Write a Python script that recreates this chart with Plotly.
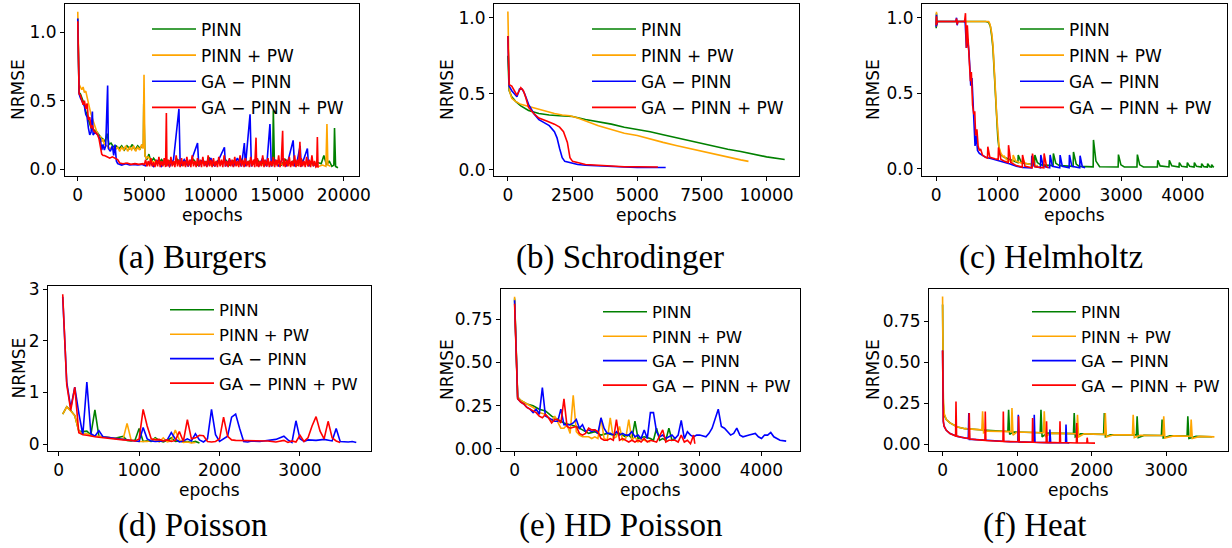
import plotly.graph_objects as go

W, H = 1232, 548

SERIES_NAMES = ["PINN", "PINN + PW", "GA \u2212 PINN", "GA \u2212 PINN + PW"]
SERIES_COLORS = ["#008000", "#FFA500", "#0000FF", "#FF0000"]

# ---------------- (a) Burgers : (epoch, NRMSE) ----------------
BURGERS_PINN = [
    (0, 1.10), (50, 0.75), (100, 0.56), (200, 0.55), (300, 0.52), (400, 0.50), (500, 0.47),
    (600, 0.42), (700, 0.40), (800, 0.36), (900, 0.33), (1000, 0.30), (1150, 0.29), (1300, 0.28),
    (1450, 0.27), (1600, 0.25), (1750, 0.23), (1900, 0.22), (2050, 0.20), (2200, 0.26), (2350, 0.18),
    (2500, 0.19), (2700, 0.16), (2900, 0.17), (3100, 0.15), (3300, 0.17), (3500, 0.14), (3700, 0.17),
    (3900, 0.15), (4100, 0.18), (4300, 0.14), (4500, 0.17), (4700, 0.15), (4850, 0.18), (4930, 0.16),
    (4960, 0.48), (5050, 0.10), (5200, 0.07), (5350, 0.11), (5500, 0.05), (5700, 0.08), (6000, 0.04),
    (6300, 0.07), (6600, 0.03), (6900, 0.06), (7200, 0.04), (7500, 0.07), (7800, 0.03), (8100, 0.06),
    (8400, 0.04), (8700, 0.07), (9000, 0.03), (9300, 0.06), (9600, 0.04), (9900, 0.08), (10200, 0.03),
    (10500, 0.06), (10800, 0.04), (11100, 0.07), (11400, 0.03), (11700, 0.06), (12000, 0.04),
    (12300, 0.07), (12600, 0.03), (12900, 0.06), (13200, 0.04), (13500, 0.07), (13800, 0.03),
    (14100, 0.06), (14400, 0.04), (14650, 0.03), (14700, 0.43), (14780, 0.05), (15000, 0.06),
    (15300, 0.03), (15600, 0.07), (15900, 0.04), (16200, 0.06), (16500, 0.03), (16800, 0.07),
    (17100, 0.04), (17400, 0.06), (17700, 0.03), (18000, 0.05), (18300, 0.04), (18500, 0.10),
    (18700, 0.03), (18900, 0.06), (19100, 0.02), (19250, 0.03), (19300, 0.30), (19380, 0.02),
    (19560, 0.01),
]
BURGERS_PINN_PW = [
    (0, 1.15), (50, 0.85), (100, 0.62), (200, 0.60), (300, 0.58), (400, 0.60), (500, 0.56),
    (600, 0.57), (700, 0.52), (800, 0.48), (900, 0.44), (1000, 0.40), (1100, 0.37), (1200, 0.33),
    (1300, 0.30), (1400, 0.28), (1500, 0.26), (1600, 0.23), (1700, 0.24), (1800, 0.20), (1900, 0.22),
    (2000, 0.18), (2200, 0.17), (2400, 0.15), (2600, 0.16), (2800, 0.14), (3000, 0.16), (3150, 0.13),
    (3300, 0.16), (3450, 0.14), (3600, 0.17), (3750, 0.13), (3900, 0.16), (4050, 0.14), (4200, 0.17),
    (4350, 0.13), (4500, 0.16), (4650, 0.14), (4800, 0.18), (4920, 0.15), (4980, 0.69), (5050, 0.10),
    (5150, 0.08), (5300, 0.09), (5500, 0.06), (5800, 0.05), (6200, 0.04), (7000, 0.05), (8000, 0.03),
    (9000, 0.05), (10000, 0.03), (11000, 0.05), (12000, 0.03), (13000, 0.05), (14000, 0.03),
    (15000, 0.04), (16000, 0.03), (17000, 0.04), (17800, 0.03), (18100, 0.02), (18400, 0.03),
    (18650, 0.02), (18730, 0.33), (18800, 0.03), (19000, 0.02),
]
BURGERS_GA = [
    (0, 1.10), (50, 0.80), (100, 0.55), (200, 0.52), (300, 0.50), (400, 0.48), (500, 0.46),
    (600, 0.40), (700, 0.38), (800, 0.30), (900, 0.25), (1000, 0.27), (1100, 0.42), (1150, 0.25),
    (1300, 0.27), (1500, 0.25), (1700, 0.22), (1800, 0.14), (1900, 0.18), (2000, 0.14), (2100, 0.17),
    (2245, 0.61), (2300, 0.15), (2450, 0.13), (2600, 0.17), (2700, 0.10), (2800, 0.18), (2900, 0.06),
    (3000, 0.04), (3300, 0.03), (3600, 0.04), (3900, 0.03), (4200, 0.035), (4500, 0.03),
    (4800, 0.035), (5100, 0.025), (5400, 0.05), (5700, 0.02), (6000, 0.06), (6300, 0.02),
    (6600, 0.07), (6900, 0.02), (7200, 0.07), (7605, 0.44), (7700, 0.02), (8000, 0.07), (8300, 0.02),
    (8600, 0.08), (9004, 0.19), (9100, 0.02), (9400, 0.07), (9700, 0.02), (10000, 0.08),
    (10300, 0.02), (10600, 0.07), (11025, 0.16), (11100, 0.02), (11400, 0.07), (11700, 0.02),
    (12000, 0.08), (12300, 0.02), (12522, 0.19), (12600, 0.02), (12950, 0.40), (13050, 0.02),
    (13300, 0.07), (13600, 0.02), (13900, 0.08), (14200, 0.02), (14446, 0.33), (14550, 0.02),
    (14800, 0.07), (15100, 0.02), (15400, 0.08), (15700, 0.02), (16190, 0.21), (16300, 0.02),
    (16500, 0.06), (16714, 0.17), (16800, 0.02), (17000, 0.07), (17260, 0.15), (17350, 0.02),
    (17600, 0.06), (17760, 0.02),
]
BURGERS_GA_PW = [
    (0, 1.08), (50, 0.75), (100, 0.55), (200, 0.54), (300, 0.50), (400, 0.47), (500, 0.50),
    (600, 0.44), (700, 0.48), (800, 0.36), (900, 0.38), (1000, 0.30), (1100, 0.32), (1200, 0.28),
    (1300, 0.27), (1400, 0.26), (1500, 0.25), (1600, 0.22), (1700, 0.16), (1800, 0.11), (1900, 0.10),
    (2000, 0.10), (2200, 0.09), (2400, 0.08), (2600, 0.09), (2800, 0.08), (3000, 0.07), (3150, 0.045),
    (3400, 0.04), (3700, 0.045), (4000, 0.035), (4300, 0.04), (4600, 0.035), (4900, 0.04),
    (5000, 0.03), (5100, 0.07), (5200, 0.02), (5300, 0.06), (5400, 0.02), (5500, 0.08), (5600, 0.02),
    (5700, 0.05), (5800, 0.015), (5900, 0.07), (6000, 0.02), (6100, 0.09), (6200, 0.015), (6300, 0.06),
    (6400, 0.02), (6500, 0.08), (6600, 0.015), (6660, 0.41), (6700, 0.02), (6800, 0.07), (6900, 0.015),
    (7000, 0.09), (7100, 0.02), (7200, 0.06), (7300, 0.015), (7400, 0.10), (7500, 0.02), (7600, 0.07),
    (7700, 0.015), (7800, 0.08), (7900, 0.02), (8000, 0.06), (8100, 0.015), (8200, 0.09), (8300, 0.02),
    (8400, 0.07), (8500, 0.015), (8600, 0.10), (8700, 0.02), (8800, 0.06), (8900, 0.015), (9000, 0.08),
    (9100, 0.02), (9200, 0.07), (9300, 0.015), (9400, 0.09), (9500, 0.02), (9600, 0.06), (9700, 0.015),
    (9800, 0.10), (9900, 0.02), (10000, 0.07), (10100, 0.015), (10200, 0.08), (10300, 0.02),
    (10400, 0.06), (10500, 0.015), (10600, 0.09), (10700, 0.02), (10800, 0.07), (10900, 0.015),
    (11000, 0.10), (11100, 0.02), (11200, 0.06), (11300, 0.015), (11400, 0.08), (11500, 0.02),
    (11600, 0.07), (11700, 0.015), (11800, 0.09), (11900, 0.02), (12000, 0.06), (12100, 0.015),
    (12200, 0.10), (12300, 0.02), (12400, 0.07), (12500, 0.015), (12600, 0.08), (12700, 0.02),
    (12800, 0.06), (12900, 0.015), (13000, 0.09), (13100, 0.02), (13200, 0.07), (13300, 0.015),
    (13400, 0.23), (13450, 0.02), (13500, 0.08), (13600, 0.015), (13700, 0.06), (13800, 0.02),
    (13900, 0.10), (14000, 0.015), (14100, 0.07), (14200, 0.02), (14300, 0.08), (14400, 0.015),
    (14500, 0.06), (14600, 0.02), (14700, 0.09), (14800, 0.015), (14900, 0.07), (15000, 0.02),
    (15100, 0.10), (15200, 0.015), (15300, 0.06), (15400, 0.28), (15450, 0.02), (15500, 0.08),
    (15600, 0.015), (15700, 0.07), (15800, 0.02), (15900, 0.09), (16000, 0.015), (16100, 0.06),
    (16200, 0.02), (16300, 0.10), (16400, 0.015), (16500, 0.07), (16600, 0.02), (16700, 0.20),
    (16750, 0.015), (16800, 0.08), (16900, 0.02), (17000, 0.06), (17100, 0.015), (17200, 0.09),
    (17300, 0.02), (17400, 0.07), (17500, 0.015), (17600, 0.10), (17700, 0.02), (17800, 0.06),
    (17900, 0.015), (17960, 0.02), (18010, 0.235), (18060, 0.01),
]

# ---------------- (b) Schrodinger ----------------
SCHRO_PINN = [
    (0, 0.75), (50, 0.52), (150, 0.48), (300, 0.45), (500, 0.42), (800, 0.39), (1200, 0.37),
    (1600, 0.36), (2000, 0.355), (2500, 0.35), (3000, 0.33), (3500, 0.315), (4000, 0.30),
    (4500, 0.28), (5000, 0.265), (5500, 0.25), (6000, 0.23), (6500, 0.21), (7000, 0.19),
    (7500, 0.17), (8000, 0.155), (8500, 0.135), (9000, 0.12), (9500, 0.10), (10000, 0.085),
    (10700, 0.068),
]
SCHRO_PINN_PW = [
    (0, 1.04), (30, 0.70), (60, 0.52), (150, 0.47), (300, 0.45), (500, 0.43), (700, 0.42),
    (900, 0.41), (1100, 0.40), (1300, 0.39), (1500, 0.38), (1800, 0.37), (2100, 0.36),
    (2400, 0.355), (2700, 0.34), (3000, 0.32), (3500, 0.29), (4000, 0.265), (4500, 0.24),
    (5000, 0.225), (5500, 0.20), (6000, 0.18), (6500, 0.16), (7000, 0.14), (7500, 0.12),
    (8000, 0.10), (8500, 0.08), (9000, 0.065), (9300, 0.055),
]
SCHRO_GA = [
    (0, 0.88), (50, 0.55), (150, 0.52), (250, 0.50), (350, 0.48), (450, 0.53), (550, 0.53),
    (650, 0.50), (800, 0.43), (1000, 0.37), (1200, 0.33), (1400, 0.31), (1600, 0.29), (1800, 0.25),
    (1900, 0.21), (2000, 0.14), (2100, 0.08), (2200, 0.055), (2400, 0.045), (2700, 0.035),
    (3000, 0.03), (3500, 0.025), (4000, 0.02), (4500, 0.018), (5000, 0.015), (5500, 0.015),
    (6100, 0.015),
]
SCHRO_GA_PW = [
    (0, 0.88), (50, 0.56), (150, 0.55), (250, 0.52), (350, 0.49), (500, 0.54), (600, 0.52),
    (700, 0.47), (800, 0.41), (1000, 0.37), (1200, 0.34), (1500, 0.32), (1800, 0.30), (2000, 0.28),
    (2150, 0.25), (2300, 0.18), (2400, 0.08), (2500, 0.055), (2700, 0.045), (3000, 0.035),
    (3500, 0.03), (4000, 0.025), (4500, 0.02), (5000, 0.02), (5800, 0.018),
]

# ---------------- (c) Helmholtz ----------------
HELM_PINN = [
    (0, 0.93), (5, 1.03), (10, 0.96), (20, 0.975), (200, 0.975), (400, 0.975), (600, 0.975),
    (800, 0.975), (850, 0.97), (880, 0.94), (900, 0.88), (920, 0.80), (940, 0.65), (960, 0.48),
    (980, 0.33), (1000, 0.20), (1020, 0.13), (1050, 0.09), (1100, 0.075), (1200, 0.06),
    (1300, 0.045), (1325, 0.04), (1330, 0.09), (1370, 0.05), (1420, 0.035), (1500, 0.03),
    (1595, 0.025), (1600, 0.09), (1640, 0.04), (1700, 0.025), (1800, 0.02), (1895, 0.02),
    (1900, 0.10), (1940, 0.035), (2000, 0.02), (2100, 0.018), (2220, 0.015), (2226, 0.11),
    (2270, 0.03), (2320, 0.015), (2450, 0.012), (2545, 0.012), (2550, 0.19), (2590, 0.05),
    (2650, 0.012), (2800, 0.011), (2950, 0.011), (2955, 0.093), (2995, 0.025), (3050, 0.011),
    (3255, 0.011), (3262, 0.093), (3300, 0.025), (3360, 0.011), (3586, 0.011), (3592, 0.055),
    (3630, 0.018), (3774, 0.011), (3780, 0.055), (3820, 0.018), (3937, 0.01), (3942, 0.04),
    (3980, 0.015), (4067, 0.01), (4072, 0.04), (4110, 0.015), (4181, 0.01), (4186, 0.04),
    (4220, 0.015), (4300, 0.01), (4304, 0.033), (4340, 0.013), (4397, 0.01), (4401, 0.033),
    (4435, 0.012), (4462, 0.01), (4466, 0.026), (4490, 0.012), (4505, 0.01),
]
HELM_PINN_PW = [
    (0, 0.95), (5, 1.04), (10, 0.94), (20, 0.975), (200, 0.975), (400, 0.975), (600, 0.975),
    (800, 0.98), (850, 0.975), (870, 0.96), (900, 0.90), (920, 0.82), (940, 0.70), (960, 0.52),
    (980, 0.36), (1000, 0.22), (1020, 0.14), (1050, 0.10), (1080, 0.08), (1095, 0.075),
    (1100, 0.085), (1140, 0.06), (1200, 0.05), (1243, 0.045), (1248, 0.09), (1290, 0.05),
    (1350, 0.04), (1395, 0.035), (1400, 0.065), (1440, 0.035), (1500, 0.03), (1545, 0.025),
    (1550, 0.05), (1590, 0.022), (1650, 0.02),
]
HELM_GA = [
    (0, 0.94), (5, 1.02), (10, 0.95), (20, 0.975), (200, 0.975), (320, 0.975), (330, 1.0),
    (340, 0.95), (350, 0.975), (450, 0.975), (470, 0.97), (490, 0.80), (510, 0.86), (530, 0.78),
    (550, 0.64), (560, 0.55), (580, 0.60), (600, 0.40), (620, 0.30), (630, 0.15), (650, 0.22),
    (670, 0.12), (700, 0.10), (750, 0.085), (800, 0.075), (900, 0.065), (1000, 0.055),
    (1100, 0.045), (1200, 0.03), (1300, 0.015), (1400, 0.008), (1545, 0.005), (1550, 0.085),
    (1590, 0.015), (1690, 0.005), (1696, 0.09), (1735, 0.015), (1840, 0.005), (1847, 0.09),
    (1885, 0.015), (2003, 0.005), (2009, 0.09), (2045, 0.015), (2155, 0.005), (2161, 0.09),
    (2200, 0.015), (2327, 0.005), (2333, 0.085), (2370, 0.012), (2414, 0.005),
]
HELM_GA_PW = [
    (0, 0.95), (5, 1.01), (10, 0.96), (20, 0.975), (200, 0.975), (320, 0.975), (330, 0.995),
    (340, 0.955), (350, 0.975), (460, 0.975), (475, 1.03), (490, 0.80), (505, 0.95), (520, 0.82),
    (540, 0.68), (555, 0.58), (570, 0.64), (590, 0.42), (610, 0.36), (625, 0.38), (640, 0.22),
    (660, 0.26), (680, 0.15), (700, 0.12), (720, 0.13), (750, 0.09), (800, 0.075), (832, 0.07),
    (837, 0.145), (870, 0.075), (950, 0.065), (1005, 0.06), (1010, 0.14), (1050, 0.06),
    (1100, 0.05), (1168, 0.04), (1173, 0.155), (1210, 0.04), (1300, 0.02), (1395, 0.01),
    (1400, 0.09), (1440, 0.015), (1556, 0.005), (1561, 0.10), (1600, 0.012), (1745, 0.005),
    (1750, 0.10), (1790, 0.012), (1820, 0.005),
]

# ---------------- (d) Poisson ----------------
POIS_PINN = [
    (50, 0.58), (100, 0.72), (150, 0.65), (200, 0.55), (250, 0.25), (300, 0.24), (350, 0.25),
    (400, 0.18), (450, 0.66), (500, 0.15), (550, 0.14), (600, 0.13), (700, 0.11), (800, 0.15),
    (850, 0.07), (900, 0.06), (950, 0.08), (1000, 0.30), (1050, 0.05), (1100, 0.06), (1150, 0.05),
    (1200, 0.12), (1250, 0.07), (1300, 0.04), (1350, 0.07), (1400, 0.12), (1450, 0.05), (1500, 0.06),
    (1550, 0.04), (1600, 0.05), (1650, 0.03), (1700, 0.05), (1750, 0.02),
]
POIS_PINN_PW = [
    (50, 0.58), (100, 0.72), (150, 0.64), (200, 0.55), (250, 0.25), (300, 0.20), (350, 0.20),
    (400, 0.17), (450, 0.16), (500, 0.15), (600, 0.13), (700, 0.11), (800, 0.09), (850, 0.40),
    (900, 0.08), (950, 0.06), (1000, 0.05), (1100, 0.05), (1200, 0.10), (1250, 0.04), (1300, 0.12),
    (1350, 0.04), (1400, 0.06), (1450, 0.27), (1500, 0.08), (1550, 0.03), (1600, 0.04), (1650, 0.02),
    (1700, 0.03),
]
POIS_GA = [
    (50, 2.85), (100, 1.20), (150, 0.70), (200, 1.10), (250, 0.60), (300, 0.18), (350, 1.20),
    (400, 0.20), (450, 0.15), (500, 0.26), (550, 0.14), (600, 0.13), (700, 0.10), (800, 0.08),
    (900, 0.07), (1000, 0.05), (1050, 0.32), (1100, 0.10), (1150, 0.06), (1200, 0.05), (1300, 0.06),
    (1350, 0.08), (1400, 0.22), (1450, 0.10), (1500, 0.04), (1550, 0.06), (1600, 0.10), (1650, 0.06),
    (1700, 0.20), (1750, 0.08), (1800, 0.04), (1850, 0.10), (1900, 0.67), (1950, 0.18), (2000, 0.05),
    (2050, 0.10), (2100, 0.15), (2150, 0.52), (2200, 0.58), (2250, 0.30), (2300, 0.05), (2350, 0.04),
    (2400, 0.06), (2500, 0.05), (2600, 0.07), (2700, 0.09), (2800, 0.15), (2850, 0.08), (2900, 0.03),
    (2950, 0.45), (3000, 0.10), (3050, 0.05), (3100, 0.08), (3200, 0.07), (3300, 0.09), (3400, 0.06),
    (3450, 0.30), (3500, 0.05), (3600, 0.04), (3650, 0.05), (3700, 0.03),
]
POIS_GA_PW = [
    (50, 2.90), (100, 1.15), (150, 0.65), (200, 1.10), (250, 0.22), (300, 0.18), (350, 0.17),
    (400, 0.15), (450, 0.14), (500, 0.13), (600, 0.11), (700, 0.10), (800, 0.08), (900, 0.07),
    (950, 0.06), (1000, 0.10), (1050, 0.67), (1100, 0.35), (1150, 0.10), (1200, 0.08), (1250, 0.09),
    (1300, 0.06), (1350, 0.08), (1400, 0.05), (1450, 0.07), (1500, 0.24), (1550, 0.05), (1600, 0.47),
    (1650, 0.10), (1700, 0.12), (1750, 0.17), (1800, 0.16), (1850, 0.05), (1900, 0.04), (1950, 0.05),
    (2000, 0.10), (2050, 0.52), (2100, 0.15), (2150, 0.08), (2200, 0.07), (2300, 0.07), (2400, 0.06),
    (2500, 0.06), (2600, 0.06), (2700, 0.04), (2800, 0.07), (2850, 0.03), (2900, 0.06), (2950, 0.04),
    (3000, 0.17), (3050, 0.05), (3100, 0.12), (3150, 0.35), (3200, 0.53), (3250, 0.25), (3300, 0.10),
    (3350, 0.44), (3400, 0.12), (3450, 0.06), (3500, 0.03),
]

# ---------------- (e) HD Poisson ----------------
HDP_PINN = [
    (0, 0.87), (50, 0.30), (100, 0.28), (200, 0.26), (300, 0.25), (400, 0.23), (500, 0.22),
    (600, 0.19), (700, 0.17), (800, 0.15), (900, 0.14), (1000, 0.13), (1100, 0.11), (1200, 0.09),
    (1300, 0.10), (1400, 0.08), (1500, 0.09), (1600, 0.08), (1700, 0.09), (1800, 0.07), (1850, 0.08),
    (1900, 0.06), (1950, 0.16), (2000, 0.06), (2100, 0.07), (2200, 0.06), (2250, 0.05), (2300, 0.12),
    (2350, 0.05), (2400, 0.06), (2450, 0.05), (2500, 0.12), (2550, 0.05), (2600, 0.06),
]
HDP_PINN_PW = [
    (0, 0.88), (50, 0.30), (100, 0.28), (200, 0.26), (300, 0.24), (400, 0.21), (500, 0.20),
    (550, 0.18), (600, 0.16), (650, 0.19), (700, 0.15), (750, 0.12), (800, 0.12), (850, 0.14),
    (900, 0.09), (950, 0.31), (1000, 0.10), (1050, 0.08), (1100, 0.07), (1200, 0.07), (1250, 0.06),
    (1300, 0.07), (1350, 0.06), (1400, 0.18), (1450, 0.06), (1500, 0.05), (1550, 0.18), (1600, 0.06),
    (1650, 0.07), (1700, 0.13), (1750, 0.05), (1800, 0.06), (1850, 0.17), (1900, 0.05), (1950, 0.07),
    (2000, 0.04), (2050, 0.06), (2100, 0.05), (2200, 0.04),
]
HDP_GA = [
    (0, 0.86), (50, 0.29), (100, 0.27), (150, 0.26), (200, 0.24), (250, 0.23), (300, 0.21),
    (350, 0.23), (400, 0.20), (450, 0.355), (500, 0.19), (550, 0.18), (600, 0.17), (650, 0.16),
    (700, 0.16), (750, 0.23), (800, 0.14), (850, 0.14), (900, 0.14), (950, 0.15), (1000, 0.17),
    (1050, 0.12), (1100, 0.14), (1150, 0.10), (1200, 0.11), (1250, 0.10), (1300, 0.11), (1350, 0.09),
    (1400, 0.18), (1450, 0.12), (1500, 0.09), (1550, 0.09), (1600, 0.08), (1650, 0.10), (1700, 0.08),
    (1750, 0.09), (1800, 0.08), (1850, 0.08), (1900, 0.10), (1950, 0.07), (2000, 0.08), (2050, 0.06),
    (2100, 0.11), (2150, 0.06), (2200, 0.21), (2250, 0.21), (2300, 0.10), (2350, 0.07), (2400, 0.08),
    (2450, 0.06), (2500, 0.07), (2550, 0.08), (2600, 0.06), (2650, 0.08), (2700, 0.165), (2750, 0.06),
    (2800, 0.10), (2850, 0.08), (2900, 0.07), (2950, 0.08), (3000, 0.08), (3100, 0.07), (3150, 0.09),
    (3200, 0.12), (3300, 0.23), (3350, 0.13), (3400, 0.12), (3450, 0.10), (3500, 0.08), (3550, 0.09),
    (3600, 0.12), (3650, 0.08), (3700, 0.07), (3800, 0.08), (3900, 0.09), (3950, 0.07), (4000, 0.06),
    (4050, 0.08), (4100, 0.08), (4150, 0.095), (4200, 0.07), (4300, 0.05), (4400, 0.045),
]
HDP_GA_PW = [
    (0, 0.84), (50, 0.29), (100, 0.27), (150, 0.26), (200, 0.24), (250, 0.23), (300, 0.22),
    (350, 0.21), (400, 0.19), (450, 0.18), (500, 0.20), (550, 0.18), (600, 0.15), (650, 0.17),
    (700, 0.17), (750, 0.15), (800, 0.29), (850, 0.13), (900, 0.12), (1000, 0.13), (1050, 0.09),
    (1100, 0.08), (1150, 0.09), (1200, 0.12), (1250, 0.11), (1300, 0.11), (1350, 0.10), (1400, 0.06),
    (1450, 0.05), (1500, 0.05), (1550, 0.06), (1600, 0.05), (1650, 0.17), (1700, 0.05), (1750, 0.06),
    (1800, 0.05), (1850, 0.04), (1900, 0.05), (1950, 0.04), (2000, 0.05), (2050, 0.04), (2100, 0.06),
    (2150, 0.04), (2200, 0.05), (2300, 0.04), (2400, 0.11), (2450, 0.04), (2500, 0.05), (2550, 0.05),
    (2600, 0.05), (2650, 0.04), (2700, 0.08), (2750, 0.04), (2800, 0.05), (2850, 0.03), (2900, 0.08),
    (2920, 0.03),
]

# ---------------- (f) Heat ----------------
HEAT_PINN = [
    (0, 0.85), (5, 0.40), (10, 0.25), (20, 0.18), (50, 0.15), (100, 0.13), (150, 0.115),
    (200, 0.105), (300, 0.095), (400, 0.09), (500, 0.088), (600, 0.085), (700, 0.082), (800, 0.08),
    (876, 0.078), (886, 0.21), (900, 0.06), (950, 0.075), (1100, 0.073), (1200, 0.072),
    (1310, 0.07), (1320, 0.21), (1335, 0.045), (1400, 0.068), (1500, 0.067), (1600, 0.066),
    (1756, 0.065), (1766, 0.19), (1780, 0.045), (1850, 0.063), (2000, 0.062), (2100, 0.061),
    (2160, 0.06), (2170, 0.19), (2185, 0.045), (2250, 0.058), (2400, 0.058), (2500, 0.057),
    (2600, 0.057), (2610, 0.17), (2625, 0.04), (2700, 0.054), (2800, 0.054), (2935, 0.053),
    (2945, 0.15), (2960, 0.038), (3050, 0.051), (3200, 0.05), (3280, 0.05), (3290, 0.17),
    (3305, 0.035), (3400, 0.048), (3500, 0.047), (3617, 0.046),
]
HEAT_PINN_PW = [
    (0, 0.90), (5, 0.45), (10, 0.28), (20, 0.19), (50, 0.15), (100, 0.13), (150, 0.115),
    (200, 0.105), (300, 0.095), (400, 0.09), (527, 0.088), (537, 0.20), (550, 0.07), (600, 0.08),
    (700, 0.079), (800, 0.078), (921, 0.077), (931, 0.22), (945, 0.055), (1000, 0.075),
    (1100, 0.073), (1200, 0.072), (1354, 0.07), (1364, 0.20), (1380, 0.045), (1450, 0.068),
    (1600, 0.066), (1700, 0.065), (1800, 0.064), (1810, 0.18), (1825, 0.045), (1900, 0.063),
    (2000, 0.062), (2100, 0.061), (2173, 0.06), (2183, 0.19), (2198, 0.045), (2300, 0.058),
    (2400, 0.058), (2547, 0.057), (2557, 0.18), (2572, 0.04), (2650, 0.055), (2800, 0.054),
    (2957, 0.053), (2967, 0.17), (2982, 0.038), (3100, 0.051), (3200, 0.05), (3325, 0.049),
    (3335, 0.15), (3350, 0.035), (3450, 0.048), (3550, 0.047), (3647, 0.045),
]
HEAT_GA = [
    (0, 0.57), (5, 0.20), (10, 0.14), (20, 0.11), (50, 0.085), (100, 0.065), (150, 0.055),
    (200, 0.048), (300, 0.038), (345, 0.035), (352, 0.19), (360, 0.03), (400, 0.03), (500, 0.026),
    (600, 0.023), (700, 0.02), (800, 0.018), (900, 0.016), (1010, 0.015), (1016, 0.18),
    (1025, 0.014), (1100, 0.013), (1224, 0.012), (1230, 0.18), (1240, 0.012), (1300, 0.011),
    (1434, 0.01), (1440, 0.09), (1450, 0.01), (1550, 0.009), (1650, 0.009), (1656, 0.12),
    (1665, 0.009), (1700, 0.008),
]
HEAT_GA_PW = [
    (0, 0.57), (5, 0.20), (10, 0.14), (20, 0.11), (50, 0.085), (100, 0.065), (150, 0.055),
    (175, 0.05), (180, 0.26), (188, 0.05), (250, 0.043), (300, 0.038), (353, 0.035), (358, 0.19),
    (366, 0.032), (450, 0.028), (568, 0.024), (573, 0.20), (581, 0.023), (700, 0.02), (810, 0.018),
    (815, 0.20), (823, 0.017), (900, 0.016), (1015, 0.015), (1020, 0.17), (1028, 0.014),
    (1100, 0.013), (1203, 0.012), (1208, 0.16), (1216, 0.012), (1300, 0.011), (1390, 0.01),
    (1395, 0.14), (1403, 0.01), (1500, 0.01), (1570, 0.009), (1575, 0.14), (1583, 0.009),
    (1700, 0.009), (1795, 0.008), (1800, 0.13), (1808, 0.008), (1900, 0.008), (1935, 0.008),
    (1940, 0.04), (1948, 0.008), (2045, 0.007),
]

# panel layout in pixels: box (left, right, top, bottom), legend/caption/ylabel anchors
PANELS = [
    dict(caption="(a) Burgers", series=[BURGERS_PINN, BURGERS_PINN_PW, BURGERS_GA, BURGERS_GA_PW],
         box=(65, 359, 4, 176), xr=[-960, 21140], yr=[-0.05, 1.206],
         xt=[0, 5000, 10000, 15000, 20000], yt=[0.0, 0.5, 1.0], yfmt="{:.1f}",
         leg=(147, 11.5), cap=(192, 257), ylab=18, font=17, gap=1),
    dict(caption="(b) Schrodinger", series=[SCHRO_PINN, SCHRO_PINN_PW, SCHRO_GA, SCHRO_GA_PW],
         box=(494, 799, 4, 176), xr=[-536, 11253], yr=[-0.041, 1.09],
         xt=[0, 2500, 5000, 7500, 10000], yt=[0.0, 0.5, 1.0], yfmt="{:.1f}",
         leg=(587, 11.5), cap=(620, 257), ylab=447, font=17, gap=1),
    dict(caption="(c) Helmholtz", series=[HELM_PINN, HELM_PINN_PW, HELM_GA, HELM_GA_PW],
         box=(922, 1227, 4, 176), xr=[-230, 4715], yr=[-0.049, 1.091],
         xt=[0, 1000, 2000, 3000, 4000], yt=[0.0, 0.5, 1.0], yfmt="{:.1f}",
         leg=(1015, 11.5), cap=(1051, 257), ylab=873, font=17, gap=1),
    dict(caption="(d) Poisson", series=[POIS_PINN, POIS_PINN_PW, POIS_GA, POIS_GA_PW],
         box=(48, 371, 286, 451), xr=[-133, 3883], yr=[-0.135, 3.06],
         xt=[0, 1000, 2000, 3000], yt=[0, 1, 2, 3], yfmt="{:.0f}",
         leg=(165, 292.5), cap=(192, 525), ylab=18, font=16.5, gap=0),
    dict(caption="(e) HD Poisson", series=[HDP_PINN, HDP_PINN_PW, HDP_GA, HDP_GA_PW],
         box=(501, 800, 289, 451), xr=[-220, 4624], yr=[-0.012, 0.925],
         xt=[0, 1000, 2000, 3000, 4000], yt=[0.0, 0.25, 0.5, 0.75], yfmt="{:.2f}",
         leg=(598, 294.5), cap=(621, 525), ylab=447, font=16.5, gap=0),
    dict(caption="(f) Heat", series=[HEAT_PINN, HEAT_PINN_PW, HEAT_GA, HEAT_GA_PW],
         box=(929, 1228, 289, 451), xr=[-182, 3829], yr=[-0.041, 0.945],
         xt=[0, 1000, 2000, 3000], yt=[0.0, 0.25, 0.5, 0.75], yfmt="{:.2f}",
         leg=(1027, 294.5), cap=(1035, 525), ylab=873, font=16.5, gap=0),
]

fig = go.Figure()
axis_font = dict(family="DejaVu Sans", size=17, color="black")
annotations = []

for i, p in enumerate(PANELS):
    n = i + 1
    sfx = "" if n == 1 else str(n)
    left, right, top, bottom = p["box"]
    common = dict(showline=True, linecolor="black", linewidth=1, mirror=True,
                  ticks="outside", ticklen=4, tickwidth=1, tickcolor="black",
                  showgrid=False, zeroline=False, tickfont=axis_font)
    fig.layout["xaxis" + sfx] = dict(
        domain=[left / W, right / W], anchor="y" + sfx, range=p["xr"],
        tickmode="array", tickvals=p["xt"], ticktext=[str(v) for v in p["xt"]], **common)
    fig.layout["yaxis" + sfx] = dict(
        domain=[1 - bottom / H, 1 - top / H], anchor="x" + sfx, range=p["yr"],
        tickmode="array", tickvals=p["yt"], ticktext=[p["yfmt"].format(v) for v in p["yt"]],
        **common)
    leg_name = "legend" + sfx
    fig.layout[leg_name] = dict(
        x=p["leg"][0] / W, y=1 - p["leg"][1] / H, xanchor="left", yanchor="top",
        bgcolor="rgba(0,0,0,0)", borderwidth=0, tracegroupgap=p["gap"], itemwidth=44,
        font=dict(family="DejaVu Sans", size=p["font"], color="black"))
    for k, pts in enumerate(p["series"]):
        fig.add_trace(go.Scatter(
            x=[q[0] for q in pts], y=[q[1] for q in pts], mode="lines",
            name=SERIES_NAMES[k], line=dict(color=SERIES_COLORS[k], width=1.6),
            xaxis="x" + sfx, yaxis="y" + sfx, legend=leg_name,
            legendgroup=f"{n}-{k}", showlegend=True))
    # axis titles
    annotations.append(dict(text="epochs", xref="paper", yref="paper",
                            x=(left + right) / 2 / W, y=1 - (bottom + 39) / H,
                            showarrow=False, font=axis_font, xanchor="center", yanchor="middle"))
    annotations.append(dict(text="NRMSE", xref="paper", yref="paper",
                            x=p["ylab"] / W, y=1 - (top + bottom) / 2 / H, textangle=-90,
                            showarrow=False, font=axis_font, xanchor="center", yanchor="middle"))
    annotations.append(dict(text=p["caption"], xref="paper", yref="paper",
                            x=p["cap"][0] / W, y=1 - p["cap"][1] / H, showarrow=False,
                            font=dict(family="Liberation Serif", size=33, color="black"),
                            xanchor="center", yanchor="middle"))

fig.update_layout(width=W, height=H, margin=dict(l=0, r=0, t=0, b=0, autoexpand=False),
                  paper_bgcolor="white", plot_bgcolor="white", annotations=annotations)

fig.write_html("out.html", config={"displayModeBar": False},
               post_script="document.body.style.margin='0px';")
